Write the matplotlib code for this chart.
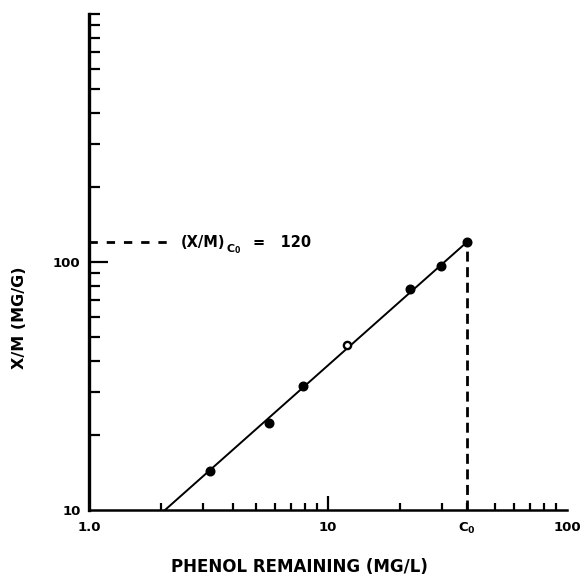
import matplotlib
matplotlib.use("Agg")
import matplotlib.pyplot as plt
import numpy as np

plt.rcParams['font.family'] = ['DejaVu Sans']
plt.rcParams['font.weight'] = 'bold'
plt.rcParams['mathtext.fontset'] = 'dejavusans'
plt.rcParams['mathtext.default'] = 'bf'

# Data
phenol_filled = [3.2, 5.67, 7.83, 22.0, 29.8, 38.0]
xm_filled = [14.4, 22.4, 31.7, 77.8, 96.3, 120.0]
phenol_open = [12.0]
xm_open = [46.3]
line_x = [2.08, 38.0]
line_y = [10.0, 120.0]
C0 = 38.0
XM_C0 = 120.0

x_major = [1.0, 10.0, C0, 100.0]
x_major_labels = ["1.0", "10", r"C$_0$", "100"]
x_minor = [2, 3, 4, 5, 6, 7, 8, 9, 20, 30, 50, 60, 70, 80, 90]
y_major = [10, 100]
y_major_labels = ["10", "100"]
y_minor = [20, 30, 40, 50, 60, 70, 80, 90, 200, 300, 400, 500, 600, 700, 800, 900, 1000]

fig = plt.figure(figsize=(5.84, 5.83), dpi=100)
ax = fig.add_axes([89/584, 1 - 510/583, 478/584, 496/583])
ax.set_xscale('log')
ax.set_yscale('log')
ax.set_xlim(1, 100)
ax.set_ylim(10, 1000)

ax.plot(line_x, line_y, color='black', lw=1.4, zorder=3)
ax.plot(phenol_filled, xm_filled, 'o', color='black', ms=6.2, zorder=4)
ax.plot(phenol_open, xm_open, 'o', mfc='white', mec='black', mew=1.7, ms=5.2, zorder=4)

# dashed guide lines
ax.plot([1.0, 2.23], [XM_C0, XM_C0], color='black', lw=2.0, ls=(0, (3.0, 3.2)), zorder=2)
ax.plot([C0, C0], [10, XM_C0], color='black', lw=2.0, ls=(0, (3.6, 2.0)), zorder=2)

# annotation "(X/M)_C0 = 120" with a large subscript
ax.annotate("(X/M)", xy=(2.41, XM_C0), fontsize=10.5, fontweight='bold',
            va='center', ha='left')
ax.annotate(r"C$_0$", xy=(2.41, XM_C0), xytext=(33, -5), textcoords='offset points',
            fontsize=8, fontweight='bold', va='center', ha='left')
ax.annotate("=   120", xy=(2.41, XM_C0), xytext=(52, 0), textcoords='offset points',
            fontsize=10.5, fontweight='bold', va='center', ha='left')

for s in ['top', 'right']:
    ax.spines[s].set_visible(False)
ax.spines['left'].set_linewidth(2.4)
ax.spines['bottom'].set_linewidth(1.8)

ax.set_xticks(x_major)
ax.set_xticklabels(x_major_labels)
ax.set_xticks(x_minor, minor=True)
ax.set_xticklabels([], minor=True)
ax.set_yticks(y_major)
ax.set_yticklabels(y_major_labels)
ax.set_yticks(y_minor, minor=True)
ax.set_yticklabels([], minor=True)

ax.tick_params(axis='both', which='both', direction='in', color='black', width=1.6,
               labelsize=9.5)
ax.tick_params(axis='x', which='major', length=10, pad=8)
ax.tick_params(axis='x', which='minor', length=5)
ax.tick_params(axis='y', which='major', length=14, pad=6)
ax.tick_params(axis='y', which='minor', length=8)

# per-tick adjustments on major ticks (axis ends carry no tick mark, C0 short)
xt = ax.xaxis.get_major_ticks()
xt[0].tick1line.set_visible(False)
xt[2].tick1line.set_markersize(5)
xt[3].tick1line.set_visible(False)
yt = ax.yaxis.get_major_ticks()
yt[0].tick1line.set_visible(False)

for lab in ax.get_xticklabels() + ax.get_yticklabels():
    lab.set_fontweight('bold')

ax.set_xlabel("PHENOL REMAINING (MG/L)", fontsize=12, fontweight='bold')
ax.xaxis.set_label_coords((299 - 89) / 478, -(567 - 510) / 496)
ax.xaxis.label.set_va('center')
ax.set_ylabel("X/M (MG/G)", fontsize=11.5, fontweight='bold')
ax.yaxis.set_label_coords((20 - 89) / 478, (510 - 318) / 496)
ax.yaxis.label.set_va('center')

fig.savefig("out.png", dpi=100)
